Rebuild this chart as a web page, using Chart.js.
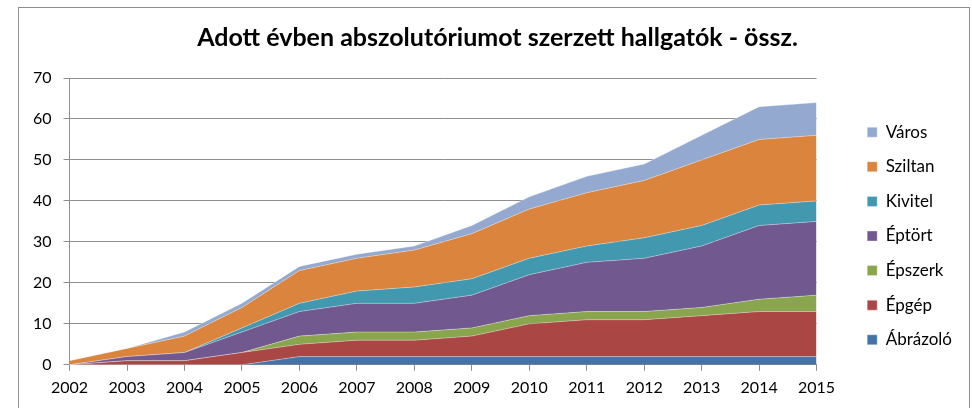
<!DOCTYPE html>
<html>
<head>
<meta charset="utf-8">
<script src="https://cdn.jsdelivr.net/npm/chart.js@4.4.0/dist/chart.umd.min.js"></script>
<style>
  html, body { margin: 0; padding: 0; background: #fff; }
  #frame { position: absolute; left: 18px; top: 7px; width: 952px; height: 420px; border: 1px solid #8e8e8e; box-sizing: border-box; }
  #wrap { position: absolute; left: 0; top: 0; width: 972px; height: 408px; }
</style>
</head>
<body>
<div id="frame"></div>
<div id="wrap"><canvas id="c" width="972" height="408"></canvas></div>
<script>
const years = ['2002','2003','2004','2005','2006','2007','2008','2009','2010','2011','2012','2013','2014','2015'];
const abrazolo = [0,0,0,0,2,2,2,2,2,2,2,2,2,2];
const epgep    = [0,1,1,3,3,4,4,5,8,9,9,10,11,11];
const epszerk  = [0,0,0,0,2,2,2,2,2,2,2,2,3,4];
const eptort   = [0,1,2,5,6,7,7,8,10,12,13,15,18,18];
const kivitel  = [0,0,0,1,2,3,4,4,4,4,5,5,5,5];
const sziltan  = [1,2,4,5,8,8,9,11,12,13,14,16,16,16];
const varos    = [0,0,1,1,1,1,1,2,3,4,4,6,8,8];
const yTicks = [0,10,20,30,40,50,60,70];

const series = [
  ['Ábrázoló', abrazolo, '#4572A7'],
  ['Épgép', epgep, '#AA4643'],
  ['Épszerk', epszerk, '#89A54E'],
  ['Éptört', eptort, '#71588F'],
  ['Kivitel', kivitel, '#4198AF'],
  ['Sziltan', sziltan, '#DB843D'],
  ['Város', varos, '#93A9CF']
];

const datasets = series.map((s, i) => ({
  label: s[0],
  data: s[1],
  backgroundColor: s[2],
  borderColor: 'rgba(255,255,255,0.35)',
  borderWidth: 1,
  pointRadius: 0,
  tension: 0,
  fill: i === 0 ? 'origin' : '-1'
}));

const FONT = 'Lato, "Open Sans", sans-serif';

// shifts for legend/title placement
const LEGEND_EXTRA = 33, LEGEND_DX = 33, LEGEND_DY = 30, TITLE_DX = 6;

const tweak = {
  id: 'tweak',
  beforeUpdate(chart) {
    const lg = chart.legend;
    if (lg && !lg._patched) {
      lg._patched = true;
      const fit = lg.fit.bind(lg);
      lg.fit = function () { fit(); this.width += LEGEND_EXTRA; };
      const draw = lg.draw.bind(lg);
      lg.draw = function () { const c = this.ctx; c.save(); c.translate(LEGEND_DX, LEGEND_DY); draw(); c.restore(); };
    }
    const tb = chart.titleBlock;
    if (tb && !tb._patched) {
      tb._patched = true;
      const draw = tb.draw.bind(tb);
      tb.draw = function () { const c = this.ctx; c.save(); c.translate(TITLE_DX, 0); draw(); c.restore(); };
    }
  }
};

new Chart(document.getElementById('c'), {
  type: 'line',
  data: { labels: years, datasets },
  plugins: [tweak],
  options: {
    responsive: false,
    animation: false,
    layout: { padding: { left: 21, right: 10, top: 8, bottom: 4 } },
    plugins: {
      title: {
        display: true,
        text: 'Adott évben abszolutóriumot szerzett hallgatók - össz.',
        color: '#000',
        font: { family: FONT, size: 25, weight: 'bold' },
        padding: { top: 15, bottom: 25 }
      },
      legend: {
        position: 'right',
        reverse: true,
        labels: {
          boxWidth: 10, boxHeight: 10,
          color: '#000',
          font: { family: FONT, size: 17 },
          padding: 17.6
        }
      },
      tooltip: { enabled: false }
    },
    scales: {
      x: {
        offset: false,
        grid: { display: true, drawOnChartArea: false, drawTicks: true, tickLength: 6, color: '#8e8e8e' },
        border: { color: '#8e8e8e', width: 1 },
        ticks: { color: '#000', font: { family: FONT, size: 16 }, padding: 7, maxRotation: 0, autoSkip: false }
      },
      y: {
        stacked: true,
        min: 0, max: 70,
        afterBuildTicks: ax => { ax.ticks = yTicks.map(v => ({ value: v })); },
        grid: { color: '#8e8e8e', tickLength: 6 },
        border: { color: '#8e8e8e', width: 1 },
        ticks: { color: '#000', font: { family: FONT, size: 16 }, padding: 12 }
      }
    }
  }
});
</script>
</body>
</html>
